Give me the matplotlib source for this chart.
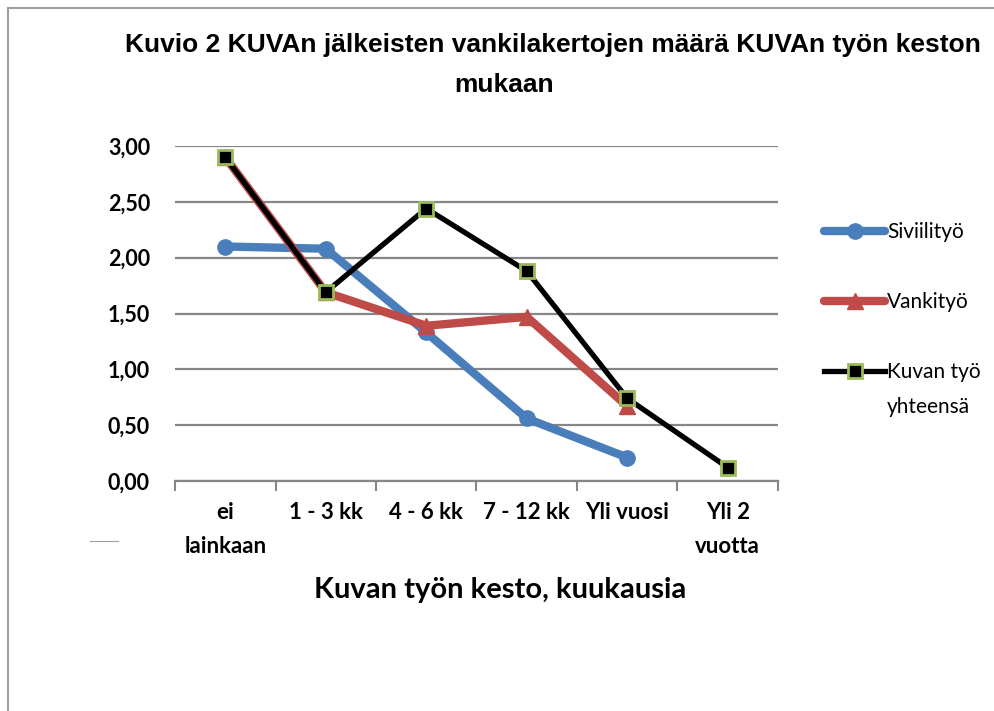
import numpy as np
import matplotlib.pyplot as plt
from matplotlib.lines import Line2D

categories = ['ei\nlainkaan', '1 - 3 kk', '4 - 6 kk', '7 - 12 kk', 'Yli vuosi', 'Yli 2\nvuotta']
siviilityo = [2.10, 2.08, 1.33, 0.56, 0.21, np.nan]
vankityo = [2.90, 1.69, 1.39, 1.47, 0.67, np.nan]
kuvan_tyo = [2.90, 1.69, 2.44, 1.88, 0.74, 0.12]
yticks = [0.0, 0.5, 1.0, 1.5, 2.0, 2.5, 3.0]

blue = '#4A7EBB'
red = '#BE4B48'
green = '#9BBB59'
grid = '#868686'

fig = plt.figure(figsize=(9.95, 7.11), dpi=100)
ax = fig.add_axes([175 / 995, 1 - 481 / 711, 603 / 995, 335 / 711])

x = np.arange(len(categories))
ax.plot(x, siviilityo, color=blue, lw=6, marker='o', ms=11, label='Siviilityö',
        solid_capstyle='round', zorder=3)
ax.plot(x, vankityo, color=red, lw=6, marker='^', ms=11, label='Vankityö',
        solid_capstyle='round', zorder=4)
ax.plot(x, kuvan_tyo, color='black', lw=3.8, marker='s', ms=10, mfc='black',
        mec=green, mew=2, label='Kuvan työ', zorder=5)

ax.set_xlim(-0.5, len(categories) - 0.5)
ax.set_ylim(0, 3)
ax.set_yticks(yticks)
ax.set_yticklabels([f'{v:.2f}'.replace('.', ',') for v in yticks],
                   fontfamily='Lato', fontweight='bold', fontsize=15.5)
ax.set_xticks(x)
ax.set_xticklabels(categories, fontfamily='Lato', fontweight='bold', fontsize=16,
                   linespacing=1.75, va='top')
ax.set_xticks(np.arange(-0.5, len(categories)), minor=True)
ax.tick_params(axis='x', which='major', length=0, pad=15)
ax.tick_params(axis='x', which='minor', length=7, width=1.5, color=grid)
ax.tick_params(axis='y', length=0, pad=18)
ax.yaxis.grid(True, color=grid, lw=1.6)
ax.set_axisbelow(True)
for s in ['top', 'right', 'left']:
    ax.spines[s].set_visible(False)
ax.spines['bottom'].set_color(grid)
ax.spines['bottom'].set_linewidth(1.6)

fig.text(553 / 995, 1 - 45 / 711, 'Kuvio 2 KUVAn jälkeisten vankilakertojen määrä KUVAn työn keston',
         ha='center', va='center', fontfamily='Liberation Sans', fontweight='bold', fontsize=19)
fig.text(504 / 995, 1 - 85 / 711, 'mukaan',
         ha='center', va='center', fontfamily='Liberation Sans', fontweight='bold', fontsize=19)
fig.text(500 / 995, 1 - 590 / 711, 'Kuvan työn kesto, kuukausia',
         ha='center', va='center', fontfamily='Lato', fontweight='bold', fontsize=21)

leg = ax.legend(loc='upper left', bbox_to_anchor=(814 / 995, 1 - 212 / 711),
                bbox_transform=fig.transFigure, frameon=False, borderpad=0,
                prop={'family': 'Lato', 'size': 15}, handlelength=2.9,
                handletextpad=0.1, labelspacing=2.4)

# second line of the last legend label, aligned under its first line
fig.canvas.draw()
bb = leg.get_texts()[2].get_window_extent()
fig.text(bb.x0 / 995, 1 - 407 / 711, 'yhteensä', ha='left', va='center',
         fontfamily='Lato', fontsize=15)

# chart border
fig.add_artist(Line2D([8 / 995, 8 / 995], [0, 1 - 8 / 711], color='#A0A0A0', lw=1.5))
fig.add_artist(Line2D([8 / 995, 1], [1 - 8 / 711, 1 - 8 / 711], color='#A0A0A0', lw=1.5))
fig.add_artist(Line2D([90 / 995, 118 / 995], [1 - 541 / 711, 1 - 541 / 711], color='#A0A0A0', lw=0.8))

fig.savefig('out.png', dpi=100)
